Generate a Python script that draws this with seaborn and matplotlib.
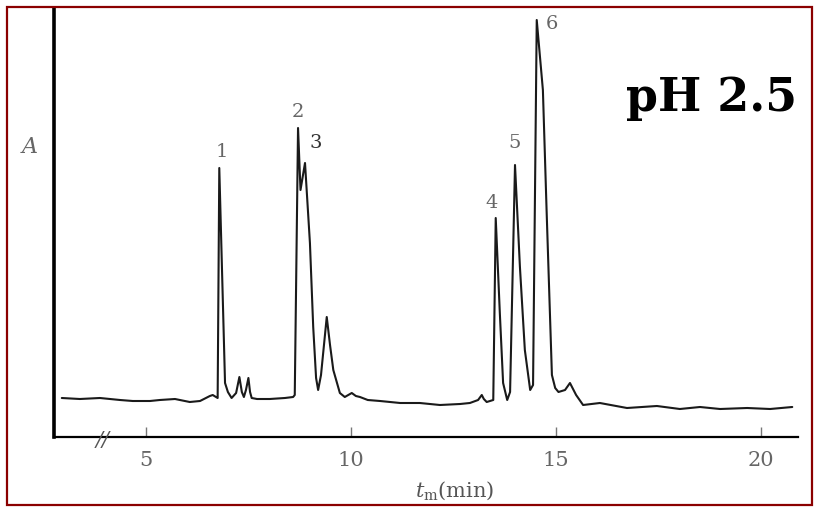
import matplotlib

matplotlib.use("Agg")

import matplotlib.pyplot as plt
import pandas as pd
import seaborn as sns
from matplotlib.patches import Rectangle

# Retention time (min) and absorbance (arbitrary units)
time_min = [
    2.95, 3.39, 3.88, 4.37, 4.68, 5.10, 5.34, 5.71, 6.07, 6.32,
    6.56, 6.63, 6.71, 6.75, 6.79, 6.93, 7.00, 7.09, 7.20, 7.28,
    7.34, 7.39, 7.44, 7.50, 7.54, 7.58, 7.71, 8.02, 8.39, 8.59,
    8.63, 8.71, 8.77, 8.88, 9.00, 9.08, 9.15, 9.20, 9.27, 9.41,
    9.49, 9.57, 9.73, 9.85, 10.02, 10.12, 10.22, 10.41, 10.71, 11.20,
    11.68, 12.17, 12.66, 12.90, 13.10, 13.19, 13.24, 13.31, 13.47, 13.53,
    13.63, 13.71, 13.81, 13.88, 14.00, 14.12, 14.24, 14.37, 14.44, 14.53,
    14.68, 14.77, 14.90, 14.98, 15.06, 15.22, 15.34, 15.49, 15.66, 16.07,
    16.73, 17.46, 18.02, 18.51, 19.00, 19.66, 20.22, 20.76,
]
absorbance = [
    39, 38, 39, 37, 36, 36, 37, 38, 35, 36,
    41, 42, 40, 39, 269, 54, 45, 39, 44, 60,
    45, 40, 47, 59, 45, 39, 38, 38, 39, 40,
    42, 309, 247, 274, 194, 110, 59, 47, 62, 120,
    92, 67, 44, 40, 44, 41, 40, 37, 36, 34,
    34, 32, 33, 34, 37, 42, 38, 35, 37, 219,
    124, 54, 37, 45, 272, 170, 87, 47, 52, 417,
    347, 227, 62, 49, 45, 47, 54, 42, 32, 34,
    29, 31, 28, 30, 28, 29, 28, 30,
]

peak_labels = ["1", "2", "3", "4", "5", "6"]
peak_label_t = [6.85, 8.71, 9.15, 13.44, 14.00, 14.90]
peak_label_a = [285, 325, 294, 234, 294, 413]

x_ticks = [5, 10, 15, 20]

df = pd.DataFrame({"t": time_min, "A": absorbance})

sns.set_theme(style="white")
plt.rcParams["font.family"] = ["DejaVu Serif", "DejaVu Sans"]
plt.rcParams["mathtext.fontset"] = "dejavuserif"

fig = plt.figure(figsize=(8.19, 5.07), dpi=100)
ax = fig.add_axes([54 / 819, 70 / 507, 744 / 819, 429 / 507])

sns.lineplot(data=df, x="t", y="A", ax=ax, sort=False, estimator=None,
             color="#1a1a1a", linewidth=1.5)

ax.set_xlim(2.76, 20.9)
ax.set_ylim(0, 429)
ax.set_xticks(x_ticks)
ax.set_xticklabels([str(v) for v in x_ticks])
ax.set_yticks([])
ax.set_xlabel(r"$t_{\mathrm{m}}$(min)", fontsize=15, color="#555555")
ax.xaxis.set_label_coords(0.539, -0.098)
ax.set_ylabel("")

for side in ["top", "right"]:
    ax.spines[side].set_visible(False)
ax.spines["left"].set_linewidth(2.6)
ax.spines["left"].set_color("black")
ax.spines["bottom"].set_linewidth(1.6)
ax.spines["bottom"].set_color("black")
ax.tick_params(axis="x", direction="in", length=7, width=1, color="#777777",
               labelsize=15, labelcolor="#666666", pad=10, bottom=True)

for lab, t, a in zip(peak_labels, peak_label_t, peak_label_a):
    ax.text(t, a, lab, ha="center", va="center", fontsize=14,
            color="#333333" if lab == "3" else "#666666")

# axis break mark
ax.text(3.95, -3, "//", ha="center", va="center", fontsize=15,
        style="italic", color="#555555", clip_on=False)

fig.text(30 / 819, 1 - 147 / 507, "A", ha="center", va="center",
         fontsize=16, style="italic", color="#666666")
fig.text(712 / 819, 1 - 98 / 507, "pH 2.5", ha="center", va="center",
         fontsize=33, fontweight="bold", color="black")

fig.patches.append(Rectangle((7 / 819, 2 / 507), 805 / 819, 498 / 507,
                             transform=fig.transFigure, fill=False,
                             edgecolor="#8b0000", linewidth=1.6))

fig.savefig("out.png", dpi=100)
